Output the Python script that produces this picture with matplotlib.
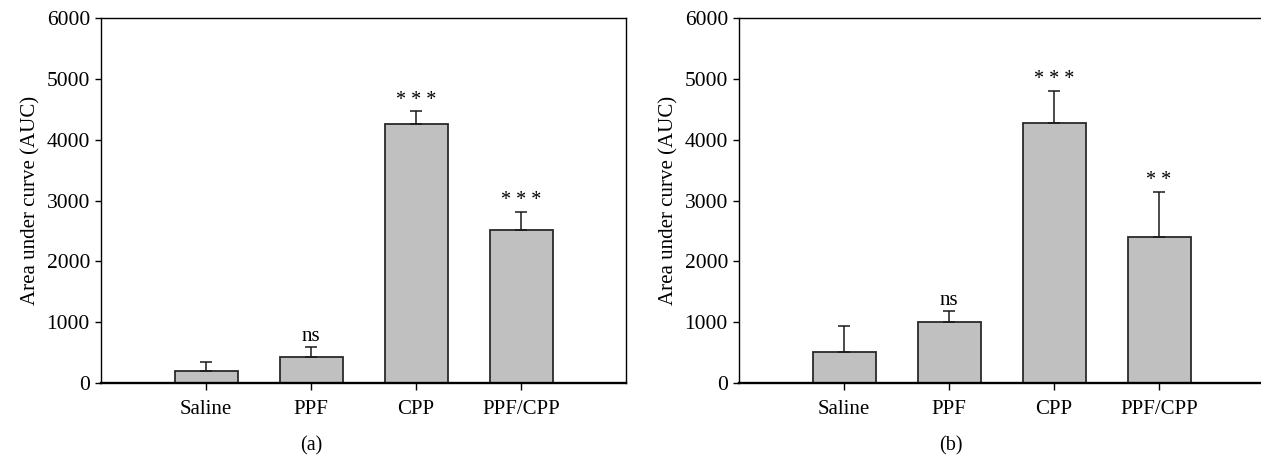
import numpy as np
import matplotlib.pyplot as plt

plt.rcParams['font.family'] = ['Liberation Serif', 'DejaVu Serif']

groups = ["Saline", "PPF", "CPP", "PPF/CPP"]

auc_a = [195, 432, 4265, 2510]
err_a = [145, 153, 205, 305]
marks_a = ["", "ns", "* * *", "* * *"]

auc_b = [508, 1000, 4275, 2395]
err_b = [428, 180, 530, 750]
marks_b = ["", "ns", "* * *", "* *"]

W, H = 1261, 458
fig = plt.figure(figsize=(W / 100, H / 100), dpi=100)


def panel(left, auc, err, marks, tag, tag_x):
    ax = fig.add_axes([left / W, (H - 383) / H, 525 / W, 365 / H])
    x = np.arange(1, len(groups) + 1)
    ax.bar(x, auc, width=0.6, color="#c0c0c0", edgecolor="#2a2a2a",
           linewidth=1.3, zorder=2)
    ax.errorbar(x, auc, yerr=[np.zeros(len(err)), err], fmt="none",
                ecolor="#1a1a1a", elinewidth=1.1, capsize=4.3,
                capthick=1.1, zorder=3)
    for xi, v, e, m in zip(x, auc, err, marks):
        if m:
            ax.annotate(m, (xi, v + e), xytext=(0, 1), textcoords="offset points",
                        ha="center", va="bottom", fontsize=15 if m == "ns" else 14.5)
    ax.set_xlim(0, 5)
    ax.set_ylim(0, 6000)
    ax.set_yticks(np.arange(0, 6001, 1000))
    ax.set_xticks(x)
    ax.set_xticklabels(groups)
    ax.tick_params(axis="y", direction="out", length=4, width=1, labelsize=15.5, pad=4)
    ax.tick_params(axis="x", direction="out", length=5, width=1, labelsize=15, pad=7)
    for s in ["left", "top", "right"]:
        ax.spines[s].set_linewidth(1.0)
    ax.spines["bottom"].set_linewidth(1.7)
    ax.set_ylabel("Area under curve (AUC)", fontsize=15, labelpad=4)
    fig.text(tag_x / W, (H - 446) / H, tag, ha="center", va="center", fontsize=14.5)
    return ax


panel(101, auc_a, err_a, marks_a, "(a)", 311)
panel(739, auc_b, err_b, marks_b, "(b)", 951)

fig.savefig("out.png", dpi=100)
